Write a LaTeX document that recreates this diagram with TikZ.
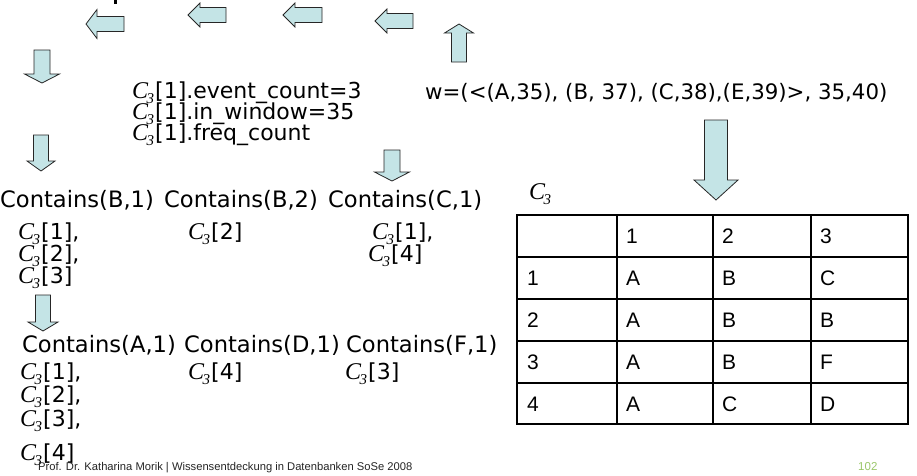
\documentclass[tikz,border=0pt]{standalone}
\usepackage{fontspec}
\setmainfont{DejaVu Sans}
\newfontfamily\tabfont{Liberation Sans}
\newfontfamily\serf{Liberation Serif}
\definecolor{arrowfill}{HTML}{C4E4E6}
\definecolor{pagegreen}{HTML}{9BC76A}
% italic C with subscript 3
\newcommand\Cth{{\serf\itshape\fontsize{24}{24}\selectfont C\kern-1.5pt\raisebox{-5pt}{\fontsize{15}{15}\selectfont 3}\kern1pt}}
% block arrow: tip x, tip y, angle, length, head length, head half-width, shaft half-width
\newcommand\blockarr[7]{%
  \draw[barrow, shift={(#1,#2)}, rotate=#3]
    (0,0) -- (-#5,#6) -- (-#5,#7) -- (-#4,#7) -- (-#4,-#7) -- (-#5,-#7) -- (-#5,-#6) -- cycle;}
\begin{document}
\begin{tikzpicture}[x=1pt,y=-1pt,
  barrow/.style={fill=arrowfill, draw=black!85, line width=0.8pt, line join=miter},
  txt/.style={anchor=base west, inner sep=0pt, font=\fontsize{22}{22}\selectfont},
  ctxt/.style={anchor=base west, inner sep=0pt, font=\fontsize{22.6}{24}\selectfont},
  cell/.style={anchor=base west, inner sep=0pt, font=\tabfont\fontsize{21}{22}\selectfont},
  outer/.style={line width=2.6pt},
  inner/.style={line width=1.3pt}]
\useasboundingbox[fill=white] (0,0) rectangle (917,475);
% clipped glyph of the heading above
\fill (114,0) rectangle (117,4);
% arrows along the top
\blockarr{86}{24}{180}{38}{11}{14.5}{7.5}
\blockarr{188}{15}{180}{38}{12}{12}{7.5}
\blockarr{283}{15}{180}{39}{12}{12}{7.5}
\blockarr{375}{21}{180}{38}{12}{12}{7.5}
\blockarr{459}{24}{90}{38}{9}{14.5}{7.5}
% arrows pointing down
\blockarr{42}{83}{-90}{33}{9}{17.5}{8}
\blockarr{41}{171}{-90}{36}{10}{14}{7.5}
\blockarr{392}{181}{-90}{31}{9}{17.5}{8}
\blockarr{43}{331}{-90}{36}{9}{15}{7.5}
\blockarr{716}{200}{-90}{80}{20}{22}{11.5}
% counters of the first candidate
\node[txt] (ev1) at (132,98) {\Cth[1].event\_count=3};
\node[txt] (ev2) at (132,119) {\Cth[1].in\_window=35};
\node[txt] (ev3) at (132,140) {\Cth[1].freq\_count};
\node[txt, font=\fontsize{21.3}{22}\selectfont] (win) at (425,99) {w=(<(A,35), (B, 37), (C,38),(E,39)>, 35,40)};
% first Contains lists
\node[ctxt] (cB1) at (0,207) {Contains(B,1)};
\node[ctxt] (cB2) at (164,207) {Contains(B,2)};
\node[ctxt] (cC1) at (328,207) {Contains(C,1)};
\node[txt] (b11) at (18,239) {\Cth[1],};
\node[txt] (b12) at (18,261) {\Cth[2],};
\node[txt] (b13) at (18,283) {\Cth[3]};
\node[txt] (b21) at (188,239) {\Cth[2]};
\node[txt] (c11) at (372,239) {\Cth[1],};
\node[txt] (c12) at (368,261) {\Cth[4]};
% second Contains lists
\node[ctxt] (cA1) at (22,352) {Contains(A,1)};
\node[ctxt] (cD1) at (184,352) {Contains(D,1)};
\node[ctxt] (cF1) at (346,352) {Contains(F,1)};
\node[txt] (a11) at (20,379) {\Cth[1],};
\node[txt] (a12) at (20,402) {\Cth[2],};
\node[txt] (a13) at (20,426) {\Cth[3],};
\node[txt] (a14) at (20,460) {\Cth[4]};
\node[txt] (d11) at (188,379) {\Cth[4]};
\node[txt] (f11) at (345,379) {\Cth[3]};
% candidate table
\node[anchor=base west, inner sep=0pt] (tlabel) at (529,199) {\Cth};
\draw[inner] (617,215) -- (617,424) (713,215) -- (713,424) (811,215) -- (811,424);
\draw[inner] (517,257) -- (908,257) (517,299) -- (908,299) (517,341) -- (908,341) (517,383) -- (908,383);
\draw[outer] (517,215) rectangle (908,424);
\foreach \r/\a/\b/\c/\d [count=\i] in {{}/1/2/3, 1/A/B/C, 2/A/B/B, 3/A/B/F, 4/A/C/D}{
  \pgfmathsetmacro\yb{215+42*\i-13.5}
  \node[cell] (t\i a) at (527,\yb) {\r};
  \node[cell] (t\i b) at (626,\yb) {\a};
  \node[cell] (t\i c) at (722,\yb) {\b};
  \node[cell] (t\i d) at (820,\yb) {\c};
}
% footer
\node[anchor=base west, inner sep=0pt, font=\tabfont\fontsize{11.2}{12}\selectfont, text=black!85] (foot) at (38,470) {Prof. Dr. Katharina Morik | Wissensentdeckung in Datenbanken SoSe 2008};
\node[anchor=base west, inner sep=0pt, font=\tabfont\fontsize{11.5}{12}\selectfont, text=pagegreen] (page) at (858,470) {102};
\end{tikzpicture}
\end{document}
